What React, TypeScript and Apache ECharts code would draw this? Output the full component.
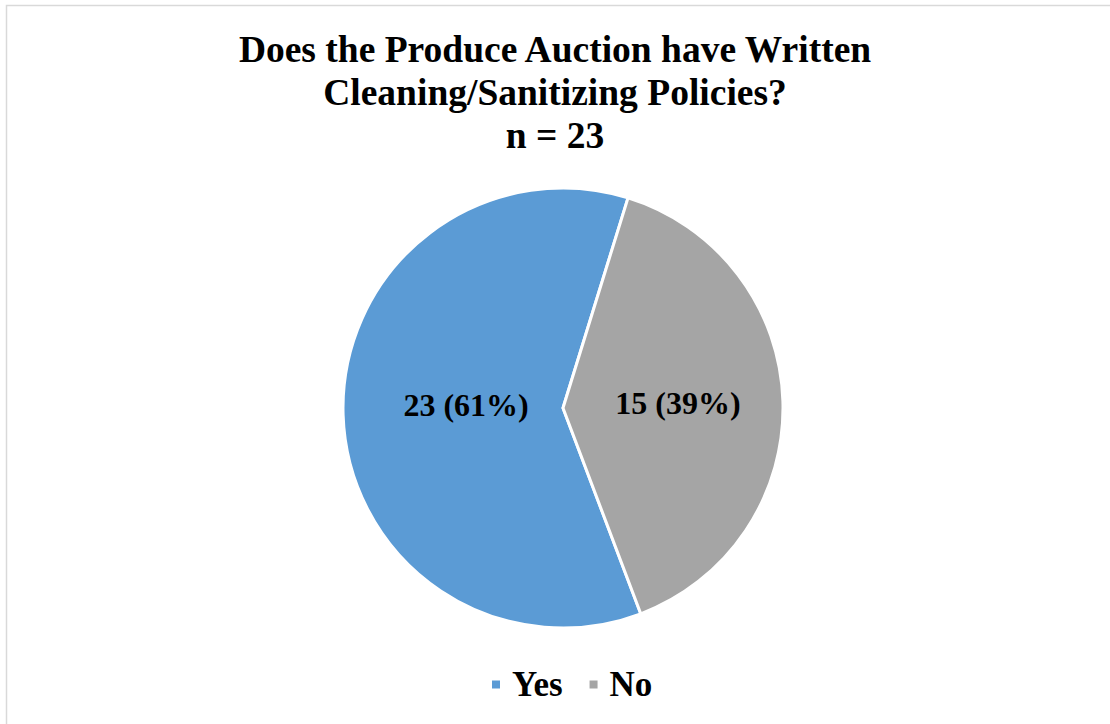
import React, { useEffect, useRef } from "react";
import * as echarts from "echarts";

const categories = ["Yes", "No"];
const values = [23, 15];
const colors = ["#5B9BD5", "#A5A5A5"];
const titleLines = [
  "Does the Produce Auction have Written",
  "Cleaning/Sanitizing Policies?",
  "n = 23",
];

export default function App() {
  const ref = useRef<HTMLDivElement>(null);
  useEffect(() => {
    document.body.style.margin = "0";
    const chart = echarts.init(ref.current!, null, { renderer: "svg" });
    const font = "'Liberation Serif', 'Times New Roman', serif";
    const labelOffsets = [[16, -6], [2, -2]];
    chart.setOption({
      animation: false,
      backgroundColor: "#ffffff",
      title: {
        text: titleLines.join("\n"),
        left: "center",
        top: 23,
        textStyle: {
          fontFamily: font,
          fontWeight: "bold",
          fontSize: 37.5,
          lineHeight: 43,
          color: "#000000",
        },
      },
      legend: {
        data: categories,
        bottom: 22,
        left: 490,
        icon: "rect",
        itemWidth: 10,
        itemHeight: 10,
        itemGap: 25,
        padding: 0,
        textStyle: {
          fontFamily: font,
          fontWeight: "bold",
          fontSize: 35,
          color: "#000000",
          padding: [0, 0, 0, 6],
        },
      },
      graphic: [
        {
          type: "rect",
          shape: { x: 6.5, y: 5.5, width: 1200, height: 800 },
          style: { fill: "none", stroke: "#D9D9D9", lineWidth: 1.5 },
          silent: true,
        },
      ],
      series: [
        {
          type: "pie",
          center: [563, 408],
          radius: 220,
          startAngle: 290.7,
          clockwise: true,
          percentPrecision: 0,
          data: categories.map((c, i) => ({
            name: c,
            value: values[i],
            itemStyle: { color: colors[i] },
            label: { offset: labelOffsets[i] },
          })),
          itemStyle: { borderColor: "#ffffff", borderWidth: 3 },
          label: {
            show: true,
            position: "inside",
            formatter: "{c} ({d}%)",
            fontFamily: font,
            fontWeight: "bold",
            fontSize: 32,
            color: "#000000",
          },
          labelLine: { show: false },
        },
      ],
    });
    return () => chart.dispose();
  }, []);
  return <div ref={ref} style={{ width: 1110, height: 724 }} />;
}
